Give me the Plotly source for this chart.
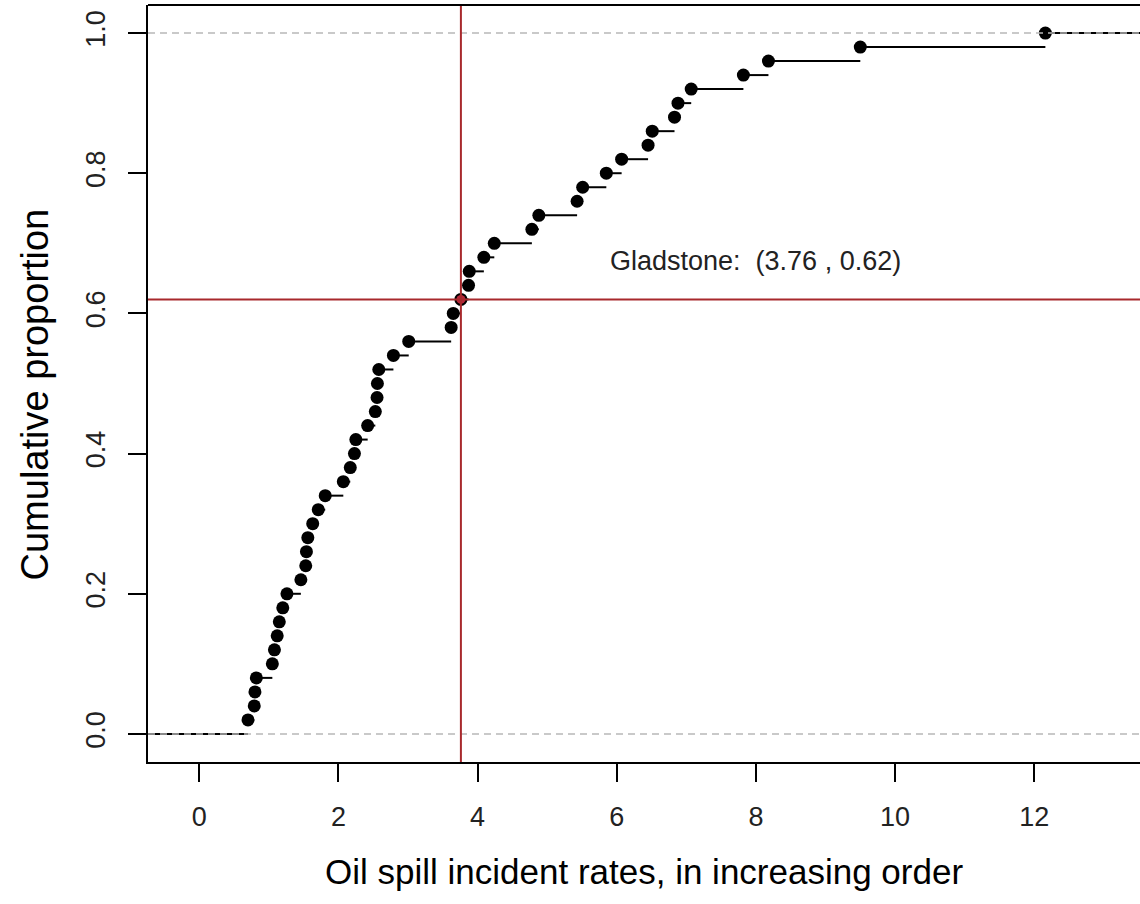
import numpy as np
import plotly.graph_objects as go

# Oil spill incident rates (sorted), one value per port
rates = [0.70, 0.79, 0.80, 0.82, 1.05, 1.08, 1.12, 1.15, 1.20, 1.26,
         1.46, 1.53, 1.54, 1.56, 1.63, 1.71, 1.81, 2.07, 2.17, 2.23,
         2.25, 2.42, 2.53, 2.555, 2.56, 2.58, 2.79, 3.01, 3.62, 3.65,
         3.76, 3.87, 3.88, 4.09, 4.24, 4.78, 4.88, 5.43, 5.51, 5.85,
         6.07, 6.45, 6.51, 6.83, 6.88, 7.07, 7.82, 8.18, 9.50, 12.16]

highlight_name = "Gladstone"
highlight_x = 3.76
highlight_y = 0.62

x_ticks = [0, 2, 4, 6, 8, 10, 12]
y_ticks = [0.0, 0.2, 0.4, 0.6, 0.8, 1.0]
y_tick_text = ["0.0", "0.2", "0.4", "0.6", "0.8", "1.0"]

x_title = "Oil spill incident rates, in increasing order"
y_title = "Cumulative proportion"

FONT = "Liberation Sans, Arial, sans-serif"
X_RANGE = [-0.737, 13.52]
Y_RANGE = [-0.04, 1.04]

# empirical CDF
xs = np.sort(np.array(rates))
n = len(xs)
cum = np.arange(1, n + 1) / n

# horizontal step segments, including the tails at 0 and 1
seg_x, seg_y = [], []
seg_x += [X_RANGE[0] - 1, xs[0], None]
seg_y += [0, 0, None]
for i in range(n - 1):
    seg_x += [xs[i], xs[i + 1], None]
    seg_y += [cum[i], cum[i], None]
seg_x += [xs[-1], X_RANGE[1] + 1]
seg_y += [1, 1]

fig = go.Figure()
fig.add_trace(go.Scatter(x=seg_x, y=seg_y, mode="lines",
                         line=dict(color="black", width=2),
                         hoverinfo="skip", showlegend=False))
fig.add_trace(go.Scatter(x=xs, y=cum, mode="markers",
                         marker=dict(color="black", size=13, line=dict(width=0)),
                         showlegend=False))
fig.add_trace(go.Scatter(x=[highlight_x], y=[highlight_y], mode="markers",
                         marker=dict(color="#b5283a", size=9, line=dict(width=0)),
                         showlegend=False))

shapes = []
# reference lines at 0 and 1
for h in (0, 1):
    shapes.append(dict(type="line", xref="paper", yref="y", x0=0, x1=1, y0=h, y1=h,
                       line=dict(color="#b8b8b8", width=1.5, dash="7px,5px")))
# crosshair through the highlighted port
shapes.append(dict(type="line", xref="x", yref="paper", x0=highlight_x, x1=highlight_x,
                   y0=0, y1=1, line=dict(color="#a8292c", width=2)))
shapes.append(dict(type="line", xref="paper", yref="y", x0=0, x1=1,
                   y0=highlight_y, y1=highlight_y, line=dict(color="#a8292c", width=2)))
# top frame edge
shapes.append(dict(type="line", xref="paper", yref="paper", x0=0, x1=1, y0=1, y1=1,
                   line=dict(color="black", width=2)))

annotations = [
    dict(x=8.0, y=0.675, xref="x", yref="y",
         text=f"{highlight_name}:  ({highlight_x:.2f} , {highlight_y:.2f})",
         showarrow=False, font=dict(family=FONT, size=27, color="#222222")),
    dict(x=0.5, y=-0.1453, xref="paper", yref="paper", text=x_title,
         showarrow=False, yanchor="middle", xanchor="center",
         font=dict(family=FONT, size=35, color="black")),
    dict(x=-0.1139, y=0.4855, xref="paper", yref="paper", text=y_title,
         showarrow=False, textangle=-90, yanchor="middle", xanchor="center",
         font=dict(family=FONT, size=38, color="black")),
]

fig.update_layout(
    width=1140, height=904,
    margin=dict(l=148, r=0, t=5, b=142, pad=0),
    paper_bgcolor="white", plot_bgcolor="white",
    shapes=shapes, annotations=annotations,
    font=dict(family=FONT, color="black"),
    xaxis=dict(range=X_RANGE, tickvals=x_ticks, ticks="outside", ticklen=18,
               tickwidth=2, tickcolor="black", showline=True, linecolor="black",
               linewidth=2, showgrid=False, zeroline=False,
               tickfont=dict(family=FONT, size=27, color="#222222"),
               ticklabelstandoff=12),
    yaxis=dict(range=Y_RANGE, tickvals=y_ticks, ticktext=y_tick_text,
               ticks="outside", ticklen=18, tickwidth=2, tickcolor="black",
               showline=True, linecolor="black", linewidth=2, showgrid=False,
               zeroline=False, tickangle=-90,
               tickfont=dict(family=FONT, size=27, color="#222222"),
               ticklabelstandoff=12),
)

fig.write_html("out.html")
